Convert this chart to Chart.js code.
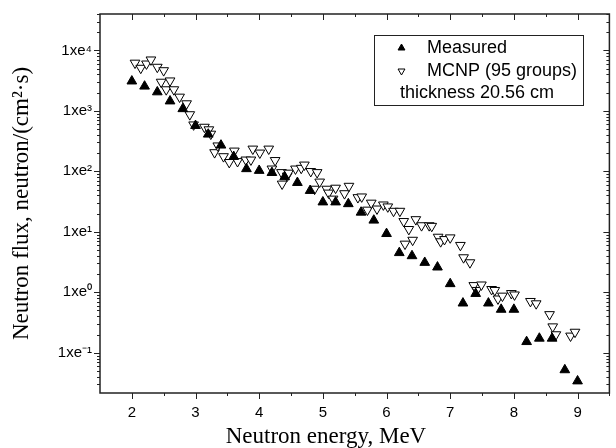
<!DOCTYPE html>
<html>
<head>
<meta charset="utf-8">
<script src="https://cdn.jsdelivr.net/npm/chart.js@4/dist/chart.umd.min.js"></script>
<style>
body { margin: 0; background: #fff; }
#wrap { width: 616px; height: 448px; }
</style>
</head>
<body>
<div id="wrap"><canvas id="Chart_FLUX" width="616" height="448"></canvas></div>
<script>
// Données (énergie en MeV, flux en neutron/(cm2.s))
const measuredEnergy = [2.0, 2.2, 2.4, 2.6, 2.8, 3.0, 3.2, 3.4, 3.6, 3.8, 4.0, 4.2, 4.4, 4.6, 4.8, 5.0, 5.2, 5.4,
    5.6, 5.8, 6.0, 6.2, 6.4, 6.6, 6.8, 7.0, 7.2, 7.4, 7.6, 7.8, 8.0, 8.2, 8.4, 8.6, 8.8, 9.0];
const measuredFlux = [3100, 2550, 2050, 1450, 1080, 570, 410, 270, 175, 110, 103, 95, 81, 65, 48, 31, 31, 29,
    21, 15.5, 9.3, 4.5, 4.0, 3.1, 2.6, 1.38, 0.66, 0.95, 0.66, 0.52, 0.52, 0.152, 0.173, 0.173, 0.052, 0.034];

const mcnpEnergy = [2.05, 2.14, 2.23, 2.30, 2.40, 2.46, 2.50, 2.54, 2.60, 2.66, 2.75, 2.86, 2.91, 2.97, 3.14, 3.21,
    3.24, 3.30, 3.35, 3.44, 3.53, 3.61, 3.66, 3.79, 3.87, 3.90, 4.01, 4.15, 4.20, 4.25, 4.35, 4.36, 4.44, 4.46,
    4.57, 4.66, 4.71, 4.81, 4.87, 4.91, 4.95, 5.06, 5.09, 5.16, 5.20, 5.34, 5.41, 5.55, 5.61, 5.70, 5.76, 5.85,
    5.95, 6.02, 6.11, 6.21, 6.27, 6.29, 6.35, 6.41, 6.46, 6.55, 6.67, 6.71, 6.81, 6.85, 6.91, 7.00, 7.16, 7.21,
    7.31, 7.37, 7.42, 7.49, 7.65, 7.70, 7.75, 7.82, 7.96, 8.01, 8.26, 8.35, 8.56, 8.61, 8.66, 8.89, 8.96];
const mcnpFlux = [6200, 5100, 6000, 7000, 5300, 3000, 4650, 2250, 3150, 2250, 1700, 1320, 870, 590, 540, 490,
    415, 205, 265, 176, 141, 218, 146, 155, 155, 235, 202, 235, 110, 152, 96, 62, 84, 94,
    110, 113, 128, 100, 51, 96, 67, 51, 44, 35, 53, 43, 57, 37, 38, 23, 30, 24,
    28, 26, 22, 22, 14.9, 6.3, 11, 7.3, 16, 12.7, 12.7, 12.4, 8.2, 6.9, 7.5, 8.0, 6.0, 3.75,
    3.1, 1.3, 1.08, 1.33, 1.12, 1.08, 0.78, 0.87, 0.96, 0.91, 0.71, 0.65, 0.43, 0.27, 0.2, 0.19, 0.22];

const xTickValues = [2, 3, 4, 5, 6, 7, 8, 9];
const yTickValues = [0.1, 1, 10, 100, 1000, 10000];
const yTickLabels = ['1xe\u207B\u00B9', '1xe\u2070', '1xe\u00B9', '1xe\u00B2', '1xe\u00B3', '1xe\u2074'];
const legendLabels = ['Measured', 'MCNP (95 groups)', 'thickness 20.56 cm'];

const sansFont = "'Liberation Sans', Arial, sans-serif";
const serifFont = "'Liberation Serif', 'Times New Roman', serif";

// cadre + graduations sur les 4 côtés
const frameTicks = {
    id: 'frameTicks',
    afterDraw(chart) {
        const {ctx, chartArea: a, scales: {x, y}} = chart;
        ctx.save();
        ctx.strokeStyle = '#222';
        ctx.lineWidth = 1;
        ctx.beginPath();
        for (let v = 2; v <= 9.5; v += 0.5) {
            const px = Math.round(x.getPixelForValue(v)) + 0.5;
            const len = Number.isInteger(v) ? 6 : 3;
            ctx.moveTo(px, a.bottom); ctx.lineTo(px, a.bottom + len);
            ctx.moveTo(px, a.top); ctx.lineTo(px, a.top + len);
        }
        for (let d = -2; d <= 4; d++) {
            for (let m = 1; m <= 9; m++) {
                const v = m * Math.pow(10, d);
                if (v < y.min || v > y.max) continue;
                const py = Math.round(y.getPixelForValue(v)) + 0.5;
                const len = m === 1 ? 6 : 3;
                ctx.moveTo(a.left, py); ctx.lineTo(a.left - len, py);
                ctx.moveTo(a.right, py); ctx.lineTo(a.right - len, py);
            }
        }
        ctx.stroke();
        ctx.lineWidth = 1.5;
        ctx.strokeRect(a.left, a.top, a.right - a.left, a.bottom - a.top);
        ctx.restore();
    }
};

// légende encadrée dans le graphique
const boxLegend = {
    id: 'boxLegend',
    afterDraw(chart) {
        const ctx = chart.ctx;
        const left = 374, top = 35, w = 209, h = 70;
        ctx.save();
        ctx.fillStyle = '#fff';
        ctx.fillRect(left, top, w, h);
        ctx.strokeStyle = '#222';
        ctx.lineWidth = 1;
        ctx.strokeRect(left + 0.5, top + 0.5, w, h);
        ctx.fillStyle = '#000';
        ctx.strokeStyle = '#000';
        Chart.helpers.drawPoint(ctx, {pointStyle: 'triangle', radius: 4, rotation: 0, borderWidth: 1}, 401.5, 48);
        ctx.fillStyle = '#fff';
        Chart.helpers.drawPoint(ctx, {pointStyle: 'triangle', radius: 4, rotation: 180, borderWidth: 1}, 401.5, 71);
        ctx.fillStyle = '#000';
        ctx.font = '18px ' + sansFont;
        ctx.textBaseline = 'middle';
        ctx.fillText(legendLabels[0], 427, 48);
        ctx.fillText(legendLabels[1], 427, 71);
        ctx.fillText(legendLabels[2], 400, 93);
        ctx.restore();
    }
};

const FluxChart = new Chart(document.getElementById('Chart_FLUX').getContext('2d'), {
    type: 'scatter',
    data: {
        datasets: [{
            label: legendLabels[0],
            data: measuredEnergy.map((e, i) => ({x: e, y: measuredFlux[i]})),
            pointStyle: 'triangle',
            rotation: 0,
            radius: 5.6,
            backgroundColor: '#000',
            borderColor: '#000',
            borderWidth: 1
        }, {
            label: legendLabels[1],
            data: mcnpEnergy.map((e, i) => ({x: e, y: mcnpFlux[i]})),
            pointStyle: 'triangle',
            rotation: 180,
            radius: 5.6,
            backgroundColor: '#fff',
            borderColor: '#000',
            borderWidth: 1
        }]
    },
    options: {
        responsive: false,
        animation: false,
        devicePixelRatio: 1,
        layout: { padding: { left: 0, right: 3, top: 14, bottom: 0 } },
        plugins: {
            legend: { display: false },
            tooltip: { enabled: false }
        },
        scales: {
            x: {
                type: 'linear',
                min: 1.5,
                max: 9.5,
                afterBuildTicks: (axis) => { axis.ticks = xTickValues.map(v => ({value: v})); },
                afterFit: (axis) => { axis.height = 55; },
                grid: { display: false, drawTicks: true, tickLength: 6 },
                border: { display: false },
                ticks: {
                    padding: 5,
                    color: '#000',
                    font: { family: sansFont, size: 15 },
                    maxRotation: 0,
                    autoSkip: false
                },
                title: {
                    display: true,
                    text: 'Neutron energy, MeV' + '\u00A0'.repeat(10),
                    color: '#000',
                    font: { family: serifFont, size: 23, lineHeight: 1 },
                    padding: 0
                }
            },
            y: {
                type: 'logarithmic',
                min: 0.0216,
                max: 40000,
                afterBuildTicks: (axis) => { axis.ticks = yTickValues.map(v => ({value: v})); },
                afterFit: (axis) => { axis.width = 100; },
                grid: { display: false, drawTicks: true, tickLength: 6 },
                border: { display: false },
                ticks: {
                    padding: 2,
                    color: '#000',
                    font: { family: sansFont, size: 15 },
                    autoSkip: false,
                    callback: (value) => yTickLabels[yTickValues.indexOf(value)]
                },
                title: {
                    display: true,
                    text: 'Neutron flux, neutron/(cm\u00B2\u00B7s)',
                    color: '#000',
                    font: { family: serifFont, size: 23, lineHeight: 1 },
                    padding: { top: 10, bottom: 0 }
                }
            }
        }
    },
    plugins: [frameTicks, boxLegend]
});
</script>
</body>
</html>
